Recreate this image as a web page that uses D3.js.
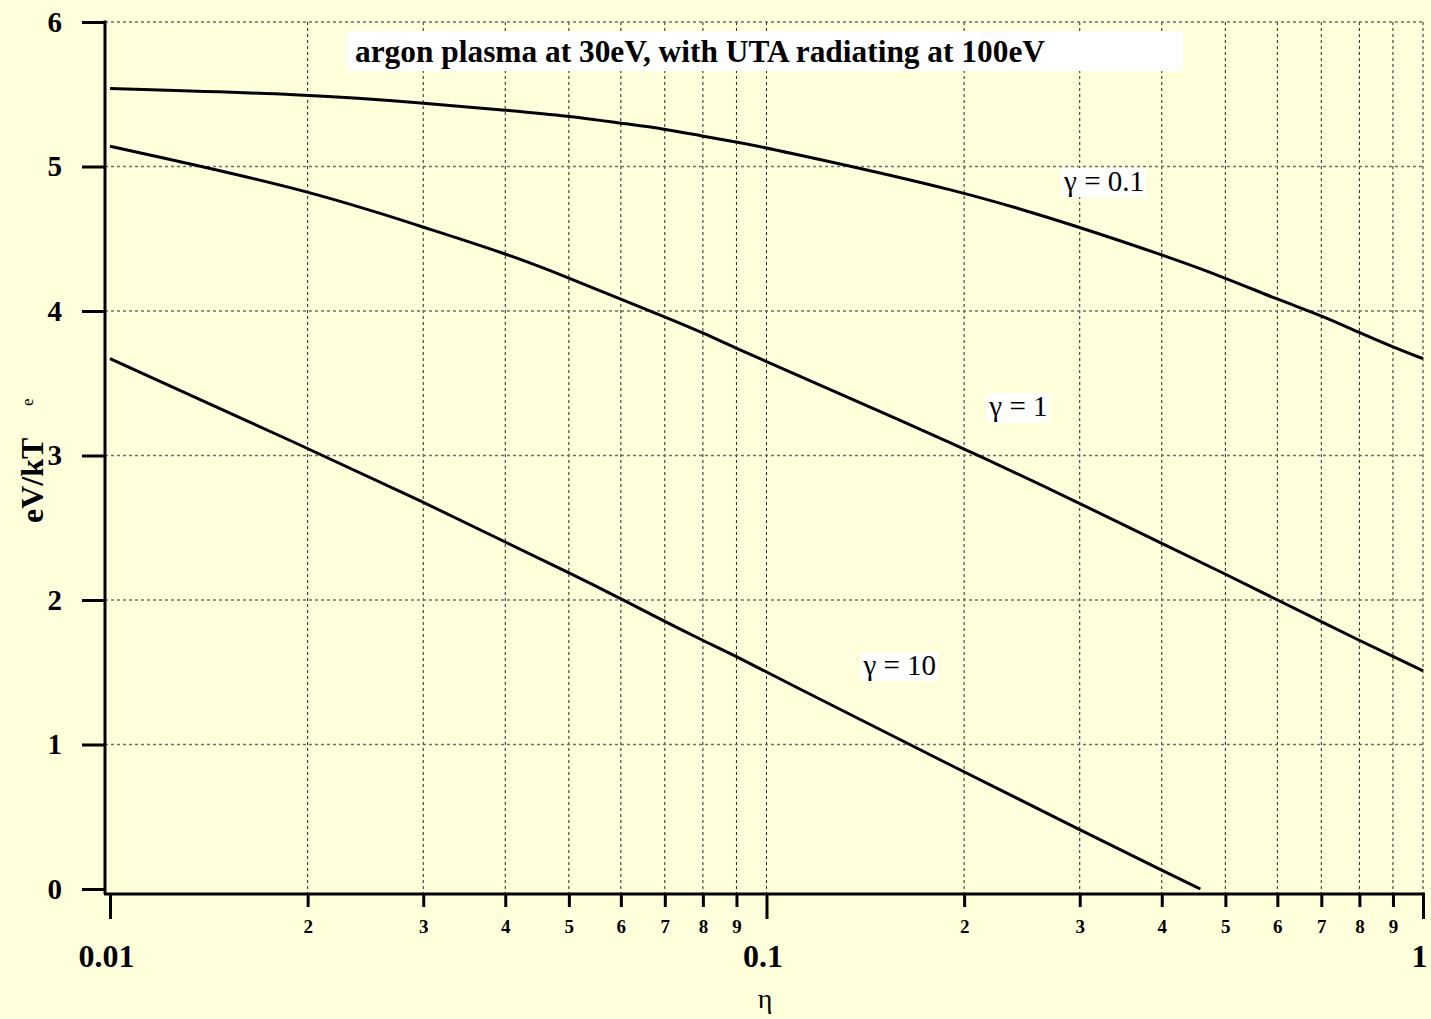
<!DOCTYPE html>
<html>
<head>
<meta charset="utf-8">
<script src="https://cdn.jsdelivr.net/npm/d3@7"></script>
<style>
  body { margin: 0; background: #ffffdc; }
  text { font-family: "Liberation Serif", "Times New Roman", serif; }
</style>
</head>
<body>
<svg width="1431" height="1019"></svg>
<script>
// values
var eta = [0.01, 0.02, 0.03, 0.04, 0.05, 0.06, 0.07, 0.08, 0.09, 0.1,
           0.2, 0.3, 0.4, 0.5, 0.6, 0.7, 0.8, 0.9, 1.0];
var gamma01 = [5.54, 5.50, 5.44, 5.39, 5.35, 5.30, 5.26, 5.21, 5.17, 5.13,
               4.83, 4.58, 4.39, 4.23, 4.08, 3.97, 3.85, 3.75, 3.67];
var gamma1 = [5.14, 4.84, 4.58, 4.40, 4.23, 4.08, 3.96, 3.85, 3.74, 3.65,
              3.05, 2.67, 2.39, 2.18, 2.00, 1.85, 1.72, 1.61, 1.51];
var eta10 = [0.01, 0.02, 0.03, 0.04, 0.05, 0.06, 0.07, 0.08, 0.09, 0.1,
             0.2, 0.3, 0.4, 0.458];
var gamma10 = [3.67, 3.05, 2.68, 2.40, 2.19, 2.01, 1.85, 1.72, 1.61, 1.50,
               0.81, 0.41, 0.13, 0.0];

var majorTicks = [0.01, 0.1, 1];
var minorTicks = [0.02, 0.03, 0.04, 0.05, 0.06, 0.07, 0.08, 0.09,
                  0.2, 0.3, 0.4, 0.5, 0.6, 0.7, 0.8, 0.9];
var yTicks = [0, 1, 2, 3, 4, 5, 6];

var title = "argon plasma at 30eV, with UTA radiating at 100eV";
var curveLabels = [
  { text: "\u03b3 = 0.1", eta: 0.284, v: 4.83 },
  { text: "\u03b3 = 1", eta: 0.2185, v: 3.27 },
  { text: "\u03b3 = 10", eta: 0.1405, v: 1.48 }
];

var svg = d3.select("svg");
var xAxisY = 894;

var xScale = d3.scaleLog().domain([0.01, 1]).range([110, 1423]);
var yScale = d3.scaleLinear().domain([0, 6]).range([889, 22]);

svg.append("rect").attr("width", 1431).attr("height", 1019).attr("fill", "#ffffdc");

// grid
svg.append("g")
  .selectAll("line")
  .data(minorTicks.concat([0.1, 1]))
  .join("line")
    .attr("x1", d => xScale(d)).attr("x2", d => xScale(d))
    .attr("y1", yScale(6)).attr("y2", xAxisY)
    .attr("stroke", "#222").attr("stroke-width", 1)
    .attr("stroke-dasharray", "3,3");

svg.append("g")
  .selectAll("line")
  .data(yTicks.slice(1))
  .join("line")
    .attr("x1", 105).attr("x2", 1424)
    .attr("y1", d => yScale(d)).attr("y2", d => yScale(d))
    .attr("stroke", "#6e6e6e").attr("stroke-width", 1.5)
    .attr("stroke-dasharray", "3,3");

// title
svg.append("rect")
  .attr("x", 347).attr("y", 31).attr("width", 836).attr("height", 40)
  .attr("fill", "#fff");
svg.append("text")
  .attr("x", 355).attr("y", 62)
  .attr("font-size", 31).attr("font-weight", "bold")
  .attr("textLength", 690).attr("lengthAdjust", "spacingAndGlyphs")
  .text(title);

// curves
var line = d3.line()
  .x(d => xScale(d[0]))
  .y(d => yScale(d[1]))
  .curve(d3.curveBasis);

var series = [
  d3.zip(eta, gamma01),
  d3.zip(eta, gamma1),
  d3.zip(eta10, gamma10)
];

svg.append("g")
  .selectAll("path")
  .data(series)
  .join("path")
    .attr("d", line)
    .attr("fill", "none")
    .attr("stroke", "#000")
    .attr("stroke-width", 3);

// curve labels
var lbl = svg.append("g")
  .selectAll("g")
  .data(curveLabels)
  .join("g");

lbl.append("text")
  .attr("x", d => xScale(d.eta))
  .attr("y", d => yScale(d.v))
  .attr("font-size", 29)
  .attr("xml:space", "preserve")
  .text(d => d.text);

lbl.each(function() {
  var g = d3.select(this);
  var b = g.select("text").node().getBBox();
  g.insert("rect", "text")
    .attr("x", b.x - 2).attr("y", b.y + 3)
    .attr("width", b.width + 4).attr("height", b.height - 3)
    .attr("fill", "#fff");
});

// y axis
var yAxis = svg.append("g")
  .attr("transform", "translate(105,0)")
  .call(d3.axisLeft(yScale).tickValues(yTicks).tickFormat(d3.format("d"))
    .tickSize(23).tickSizeOuter(0).tickPadding(20));
yAxis.select(".domain").remove();
yAxis.selectAll(".tick line").attr("stroke-width", 3);
yAxis.selectAll("text")
  .attr("font-size", 29).attr("font-weight", "bold").attr("fill", "#000");
yAxis.append("line")
  .attr("x1", 0).attr("x2", 0)
  .attr("y1", yScale(6) - 1.5).attr("y2", xAxisY)
  .attr("stroke", "#000").attr("stroke-width", 3);

// x axis, major
var xMajor = svg.append("g")
  .attr("transform", `translate(0,${xAxisY})`)
  .call(d3.axisBottom(xScale).tickValues(majorTicks).tickFormat(d => String(d))
    .tickSize(25).tickSizeOuter(0));
xMajor.select(".domain").remove();
xMajor.selectAll(".tick line").attr("stroke-width", 3);
xMajor.selectAll("text")
  .attr("y", 73).attr("dy", 0).attr("dx", -4)
  .attr("font-size", 32).attr("font-weight", "bold").attr("fill", "#000");

// x axis, minor
var xMinor = svg.append("g")
  .attr("transform", `translate(0,${xAxisY})`)
  .call(d3.axisBottom(xScale).tickValues(minorTicks)
    .tickFormat(d => String(Math.round(d / Math.pow(10, Math.floor(Math.log10(d) + 1e-9)))))
    .tickSize(13).tickSizeOuter(0));
xMinor.select(".domain").remove();
xMinor.selectAll(".tick line").attr("stroke-width", 3);
xMinor.selectAll("text")
  .attr("y", 39).attr("dy", 0)
  .attr("font-size", 19).attr("font-weight", "bold").attr("fill", "#000");

svg.append("line")
  .attr("x1", 104).attr("x2", 1425)
  .attr("y1", xAxisY).attr("y2", xAxisY)
  .attr("stroke", "#000").attr("stroke-width", 3);

// axis titles
svg.append("text")
  .attr("x", 765).attr("y", 1008)
  .attr("text-anchor", "middle")
  .attr("font-size", 28)
  .text("\u03b7");

svg.append("text")
  .attr("transform", "translate(43,523) rotate(-90)")
  .attr("font-size", 32).attr("font-weight", "bold")
  .text("eV/kT");
svg.append("text")
  .attr("transform", "translate(33,406) rotate(-90)")
  .attr("font-size", 17)
  .text("e");
</script>
</body>
</html>
